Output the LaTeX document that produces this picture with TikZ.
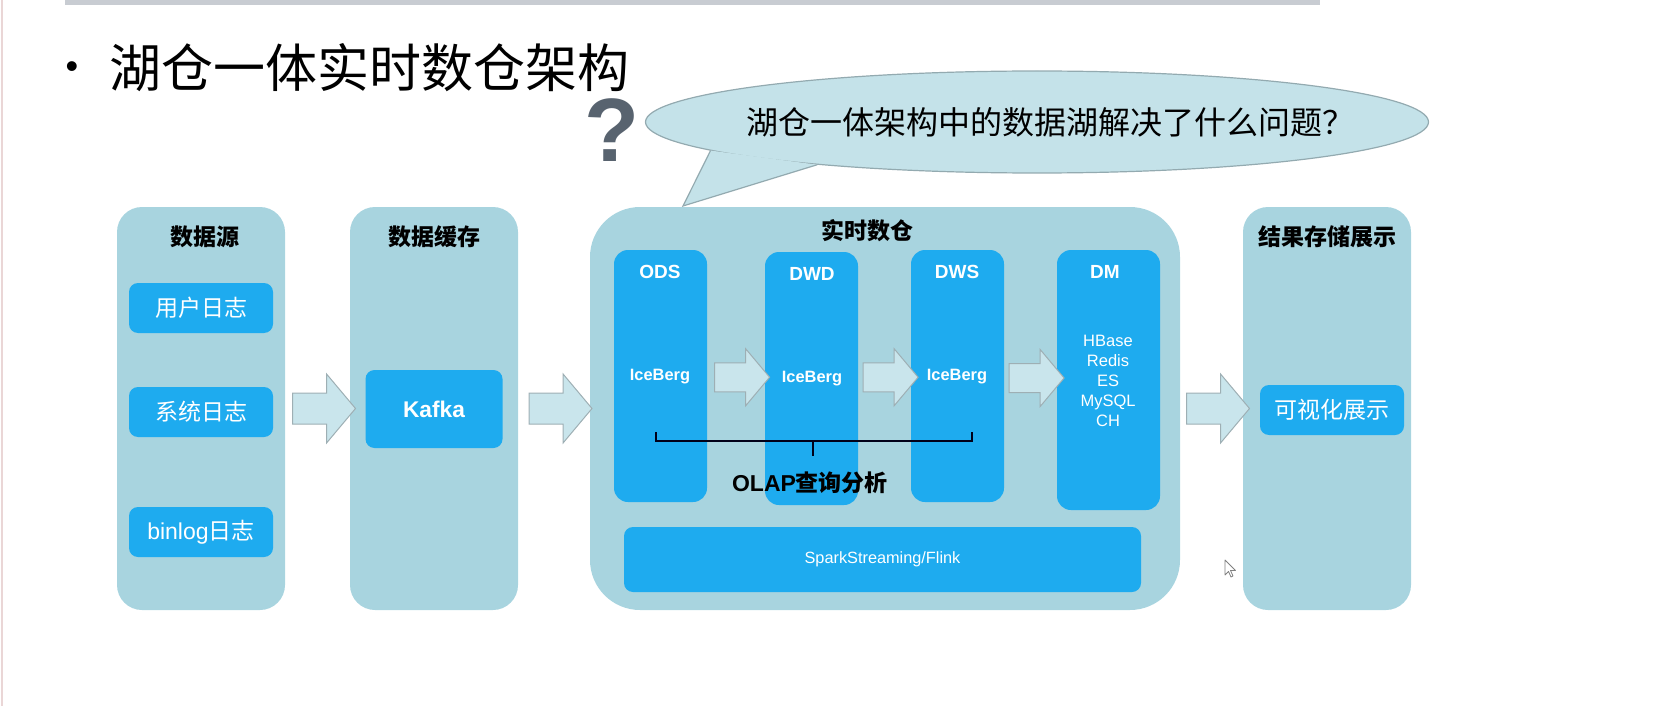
\documentclass[tikz,border=0pt]{standalone}
\usepackage{fontspec}
\setmainfont{Liberation Sans}
\newfontfamily\cjk{Noto Sans CJK SC}
\usetikzlibrary{shapes.geometric,shapes.arrows,calc}

\definecolor{colbg}{HTML}{A8D4DF}
\definecolor{itembg}{HTML}{1EABEF}
\definecolor{arrowbg}{HTML}{C9E5EC}
\definecolor{arrowline}{HTML}{9EAFB4}
\definecolor{bubblebg}{HTML}{C4E2E9}
\definecolor{bubbleline}{HTML}{93AAB0}
\definecolor{qmark}{HTML}{58636F}
\definecolor{topbar}{HTML}{C8CCD2}
\definecolor{edgeline}{HTML}{EAD6D6}

\newcommand{\fs}[2]{\fontsize{#1}{#2}\selectfont}

\tikzset{
  column/.style={fill=colbg, rounded corners=25pt, minimum width=168pt, minimum height=403pt},
  coltitle/.style={font=\cjk\bfseries\fs{23}{26}},
  item/.style={fill=itembg, rounded corners=9pt, text=white, minimum width=144pt, minimum height=50pt, font=\cjk\fs{23}{26}},
  layer/.style={fill=itembg, rounded corners=14pt, minimum width=93pt, minimum height=252pt},
  layername/.style={text=white, font=\bfseries\fs{19}{21}},
  ice/.style={text=white, font=\bfseries\fs{16.4}{18}},
  flow/.style={single arrow, draw=arrowline, fill=arrowbg, line width=1pt, inner xsep=0pt, inner ysep=15pt,
    minimum height=63pt, minimum width=68pt, single arrow head extend=19pt, single arrow tip angle=100},
  smallflow/.style={flow, inner ysep=14pt, minimum height=55pt, minimum width=56pt, single arrow head extend=14pt},
}

\begin{document}
\begin{tikzpicture}[x=1pt, y=-1pt]
   \useasboundingbox (0,0) rectangle (1658,706);

   % slide frame
   \fill [topbar] (65,0) rectangle (1320,5);
   \draw [edgeline, line width=1.5pt] (2,0) -- (2,706);

   % heading
   \node (dot) at (72,70) {\fs{36}{40}\textbullet};
   \node [anchor=west] (heading) at (106,68) {\cjk\fs{52}{56}湖仓一体实时数仓架构};

   % question bubble
   \node [text=qmark, font=\bfseries\fs{90}{90}] (ask) at (612,130) {?};
   \node [ellipse, fill=bubblebg, draw=bubbleline, line width=1.2pt, minimum width=783pt, minimum height=102pt] (bubble) at (1037,122) {};
   \coordinate (tip) at (683,206);
   \filldraw [fill=bubblebg, draw=bubbleline, line width=1.2pt] (bubble.185.4) -- (tip) -- (bubble.191.7);
   \node [font=\cjk\fs{32}{34}] (question) at (1050,122) {湖仓一体架构中的数据湖解决了什么问题？};

   % columns
   \node [column] (src) at (201,408.5) {};
   \node [column] (cache) at (434,408.5) {};
   \node [column, minimum width=590pt, rounded corners=50pt] (dw) at (885,408.5) {};
   \node [column] (res) at (1327,408.5) {};

   \node [coltitle] (srctitle) at (205,237) {数据源};
   \node [coltitle] (cachetitle) at (434,237) {数据缓存};
   \node [coltitle] (dwtitle) at (867,231) {实时数仓};
   \node [coltitle] (restitle) at (1327,237) {结果存储展示};

   % sources
   \node [item] (userlog) at (201,308) {用户日志};
   \node [item] (syslog) at (201,412) {系统日志};
   \node [item, font=\fs{23}{26}] (binlog) at (201,532) {binlog{\cjk 日志}};

   % cache
   \node [item, minimum width=137pt, minimum height=78pt, font=\bfseries\fs{22.7}{26}] (kafka) at (434,409) {Kafka};

   % warehouse layers
   \node [layer] (ods) at (660.5,376) {};
   \node [layer, minimum height=253pt] (dwd) at (811.5,378.5) {};
   \node [layer] (dws) at (957.5,376) {};
   \node [layer, minimum width=103pt, minimum height=260pt] (dm) at (1108.5,380) {};

   \node [layername] (odsname) at (660,272) {ODS};
   \node [layername] (dwdname) at (812,274) {DWD};
   \node [layername] (dwsname) at (957,272) {DWS};
   \node [layername] (dmname) at (1105,272) {DM};

   \node [ice] (odsice) at (660,377) {IceBerg};
   \node [ice] (dwdice) at (812,379) {IceBerg};
   \node [ice] (dwsice) at (957,377) {IceBerg};
   \node [text=white, align=center, font=\fs{16.5}{20}] (dmstore) at (1108,381) {HBase\\Redis\\ES\\MySQL\\CH};

   \node [fill=itembg, rounded corners=9pt, minimum width=517pt, minimum height=65pt, text=white, font=\fs{16.3}{18}] (engine) at (882.5,559.5) {SparkStreaming/Flink};

   % result
   \node [item] (show) at (1332,410) {可视化展示};

   % flow arrows
   \node [flow] (f1) at ($(src.east)!0.5!(cache.west)$) {};
   \node [flow] (f2) at ($(cache.east)!0.5!(dw.west)$) {};
   \node [smallflow] (f3) at ($(ods.east)!0.5!(dwd.west)$) {};
   \node [smallflow] (f4) at ($(dwd.east)!0.5!(dws.west)$) {};
   \node [smallflow] (f5) at ($(dws.east)!0.5!(dm.west)$) {};
   \node [flow] (f6) at ($(dw.east)!0.5!(res.west)$) {};

   % OLAP bracket
   \node [font=\bfseries\fs{23}{26}] (olap) at (810,483) {OLAP{\cjk 查询分析}};
   \coordinate (bl) at (656,432);
   \coordinate (br) at (972,432);
   \coordinate (stem) at (813,441);
   \draw [line width=2pt, black!90!blue] (bl) -- (bl |- stem) -- (br |- stem) -- (br);
   \draw [line width=2pt, black!90!blue] (stem) -- (stem |- olap.north) [shorten >=13pt];

   % mouse pointer
   \draw [gray, fill=white, line width=0.8pt, line join=round, shift={(1225,560)}]
     (0,0) -- (0,15) -- (3.5,11.5) -- (6,17) -- (8,16) -- (5.5,10.5) -- (10.5,10.5) -- cycle;
\end{tikzpicture}
\end{document}
